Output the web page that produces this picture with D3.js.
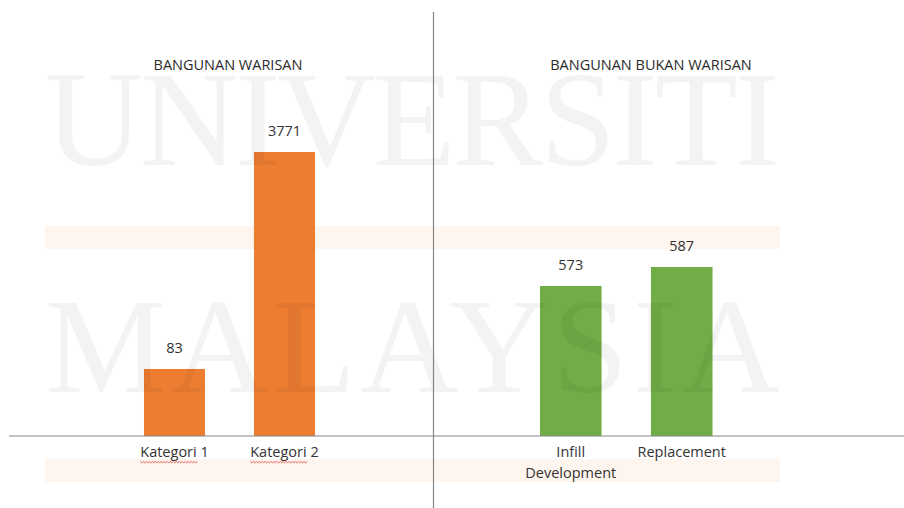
<!DOCTYPE html>
<html>
<head>
<meta charset="utf-8">
<script src="https://cdn.jsdelivr.net/npm/d3@7"></script>
<style>
  html, body { margin: 0; padding: 0; background: #fff; }
  svg { display: block; }
</style>
</head>
<body>
<div id="wrapper"></div>
<script>
// data
const heritageTitle = 'BANGUNAN WARISAN';
const heritageCategories = ['Kategori 1', 'Kategori 2'];
const heritageValues = [83, 3771];

const nonHeritageTitle = 'BANGUNAN BUKAN WARISAN';
const nonHeritageCategories = ['Infill\nDevelopment', 'Replacement'];
const nonHeritageValues = [573, 587];

const watermarkLines = ['UNIVERSITI', 'MALAYSIA'];

function drawChart() {
  const dimensions = {
    width: 904,
    height: 508,
    baseline: 436,
    dividerX: 433.5,
  };

  const wrapper = d3
    .select('#wrapper')
    .append('svg')
    .attr('width', dimensions.width)
    .attr('height', dimensions.height);

  const font = "'Open Sans', 'Noto Sans', sans-serif";
  const textColor = '#333';

  // the source picture is not drawn to scale, so each panel gets its own
  // linear scale whose (truncated) domain reproduces the bar heights
  const panels = [
    {
      title: heritageTitle,
      titleX: 228,
      categories: heritageCategories,
      values: heritageValues,
      color: '#ED7D31',
      xRange: [89, 370],
      yDomain: [-1056, 3771],
      yRange: [dimensions.baseline, 152],
    },
    {
      title: nonHeritageTitle,
      titleX: 651,
      categories: nonHeritageCategories,
      values: nonHeritageValues,
      color: '#70AD47',
      xRange: [484.5, 768],
      yDomain: [462.5, 587],
      yRange: [dimensions.baseline, 267],
    },
  ];

  const barsLayer = wrapper.append('g').attr('class', 'bars');
  const markLayer = wrapper.append('g').attr('class', 'watermark');
  const textLayer = wrapper.append('g').attr('class', 'texts');

  panels.forEach((panel) => {
    const data = panel.categories.map((c, i) => ({ category: c, value: panel.values[i] }));

    const xScale = d3
      .scaleBand()
      .domain(panel.categories)
      .range(panel.xRange)
      .paddingInner(0.445)
      .paddingOuter(0.5);

    const yScale = d3
      .scaleLinear()
      .domain(panel.yDomain)
      .range(panel.yRange);

    barsLayer
      .append('g')
      .selectAll('rect')
      .data(data)
      .join('rect')
      .attr('x', (d) => xScale(d.category))
      .attr('y', (d) => yScale(d.value))
      .attr('width', xScale.bandwidth())
      .attr('height', (d) => dimensions.baseline - yScale(d.value))
      .style('fill', panel.color);

    // value labels
    textLayer
      .append('g')
      .selectAll('text')
      .data(data)
      .join('text')
      .attr('x', (d) => xScale(d.category) + xScale.bandwidth() / 2)
      .attr('y', (d) => yScale(d.value) - 16)
      .attr('text-anchor', 'middle')
      .style('font-family', font)
      .style('font-size', '14.5px')
      .style('fill', textColor)
      .text((d) => d.value);

    // title
    textLayer
      .append('text')
      .attr('x', panel.titleX)
      .attr('y', 70)
      .attr('text-anchor', 'middle')
      .style('font-family', font)
      .style('font-size', '14.5px')
      .style('fill', '#2b2b2b')
      .text(panel.title);

    // category axis
    const xAxisGenerator = d3.axisBottom(xScale).tickSize(0).tickPadding(0);
    const xAxis = textLayer
      .append('g')
      .attr('class', 'x-axis')
      .attr('transform', `translate(0, ${dimensions.baseline})`)
      .call(xAxisGenerator);
    xAxis.select('.domain').remove();
    xAxis
      .selectAll('.tick text')
      .attr('y', 0)
      .attr('dy', 0)
      .style('font-family', font)
      .style('font-size', '14.5px')
      .style('fill', textColor)
      .each(function (d) {
        const lines = d.split('\n');
        const text = d3.select(this).text(null);
        lines.forEach((line, i) => {
          text
            .append('tspan')
            .attr('x', 0)
            .attr('y', 21 + i * 21)
            .text(line);
        });
      });

    // spell-check squiggle under "Kategori"
    xAxis.selectAll('.tick').each(function (d) {
      if (!d.startsWith('Kategori')) return;
      const tspan = d3.select(this).select('tspan').node();
      const box = tspan.getBBox();
      const wordWidth = tspan.getSubStringLength(0, 8);
      const path = d3.path();
      const y0 = 25.5;
      path.moveTo(box.x, y0);
      for (let x = box.x, k = 0; x < box.x + wordWidth; x += 1.5, k++) {
        path.lineTo(x + 1.5, y0 + (k % 2 ? 0 : 1.3));
      }
      d3.select(this)
        .append('path')
        .attr('d', path.toString())
        .style('fill', 'none')
        .style('stroke', '#e0403a')
        .style('stroke-width', 0.8);
    });
  });

  // faint watermark of the source document
  const bands = [226, 459];
  markLayer
    .selectAll('rect')
    .data(bands)
    .join('rect')
    .attr('x', 45)
    .attr('y', (d) => d)
    .attr('width', 735)
    .attr('height', 23)
    .style('fill', '#ED7D31')
    .style('opacity', 0.08);

  markLayer
    .selectAll('text')
    .data(watermarkLines)
    .join('text')
    .attr('x', 45)
    .attr('y', (d, i) => (i === 0 ? 165 : 392))
    .attr('textLength', 735)
    .attr('lengthAdjust', 'spacing')
    .style('font-family', "'Liberation Serif', 'DejaVu Serif', serif")
    .style('font-size', '136px')
    .style('fill', '#000')
    .style('opacity', 0.045)
    .text((d) => d);

  // divider and baseline
  wrapper
    .append('line')
    .attr('x1', dimensions.dividerX)
    .attr('x2', dimensions.dividerX)
    .attr('y1', 12)
    .attr('y2', dimensions.height)
    .style('stroke', '#858585')
    .style('stroke-width', 1.2);

  wrapper
    .append('line')
    .attr('x1', 9)
    .attr('x2', dimensions.width)
    .attr('y1', dimensions.baseline)
    .attr('y2', dimensions.baseline)
    .style('stroke', '#858585')
    .style('stroke-width', 1.2);
}

drawChart();
</script>
</body>
</html>
